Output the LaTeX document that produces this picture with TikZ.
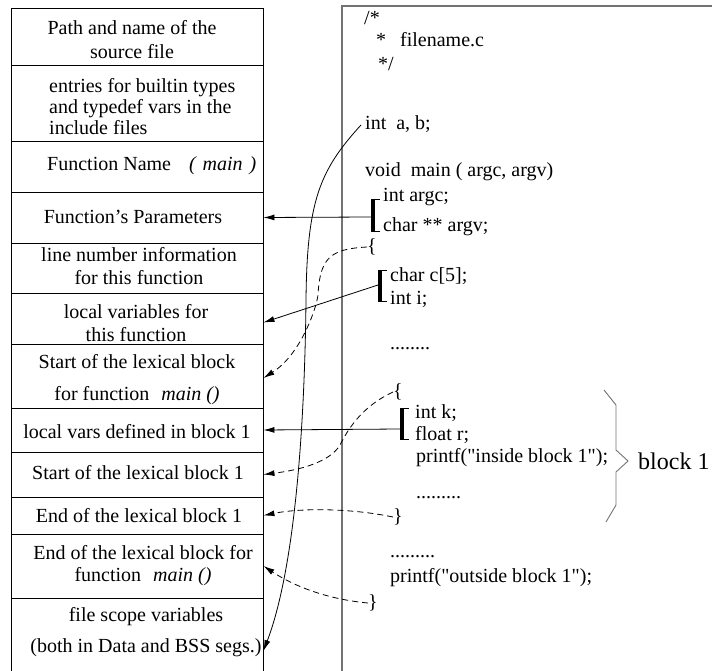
\documentclass[tikz,border=0pt]{standalone}
\usepackage{fontspec}
\setmainfont{Liberation Serif}[Ligatures=TeXOff]
\usetikzlibrary{arrows.meta}

\begin{document}
\begin{tikzpicture}[x=1pt,y=-1pt,
  every node/.style={font=\fontsize{20}{24}\selectfont, inner sep=0pt},
  cell/.style={draw, line width=0.9pt, minimum width=252pt},
  entry/.style={align=center},
  code/.style={anchor=west, text height=14pt, text depth=4pt},
  frame/.style={line width=1.1pt, draw=black!55},
  link/.style={line width=0.8pt, -{Latex[length=11pt,width=6pt]}},
  dlink/.style={link, dash pattern=on 6pt off 4pt},
  brbar/.style={line width=3.2pt},
  brtick/.style={line width=1.4pt},
]
\useasboundingbox (0,0) rectangle (712,671);

% ---- symbol table (left column) ----
\node[cell, minimum height=57pt] (r1)  at (137,36.5)  {};
\node[cell, minimum height=76pt] (r2)  at (137,103)   {};
\node[cell, minimum height=51pt] (r3)  at (137,166.5) {};
\node[cell, minimum height=51pt] (r4)  at (137,217.5) {};
\node[cell, minimum height=50pt] (r5)  at (137,268)   {};
\node[cell, minimum height=51pt] (r6)  at (137,318.5) {};
\node[cell, minimum height=64pt] (r7)  at (137,376)   {};
\node[cell, minimum height=44pt] (r8)  at (137,430)   {};
\node[cell, minimum height=45pt] (r9)  at (137,474.5) {};
\node[cell, minimum height=37pt] (r10) at (137,515.5) {};
\node[cell, minimum height=64pt] (r11) at (137,566)   {};
\node[cell, minimum height=92pt] (r12) at (137,644)   {};

\node[entry] (t1) at (132,40) {Path and name of the\\source file};
\node[align=left, anchor=west, font=\fontsize{20}{21}\selectfont] (t2) at (49,107)
  {entries for builtin types\\and typedef vars in the\\include files};
\node[anchor=west] (t3) at (47,166) {Function Name\hspace{18pt}\textit{(\hspace{7pt}main\hspace{7pt})}};
\node[entry] (t4) at (133,217) {Function’s Parameters};
\node[entry, font=\fontsize{20}{23}\selectfont] (t5) at (139,266.5) {line number information\\for this function};
\node[entry, font=\fontsize{20}{23}\selectfont] (t6) at (136,323.5) {local variables for\\this function};
\node[entry] (t7) at (137,380) {Start of the lexical block\\[8pt]for function\hspace{12pt}\textit{main ()}};
\node[entry] (t8) at (137,432) {local vars defined in block 1};
\node[entry] (t9) at (138,473) {Start of the lexical block 1};
\node[entry] (t10) at (139,516) {End of the lexical block 1};
\node[entry, font=\fontsize{20}{22}\selectfont] (t11) at (143,566) {End of the lexical block for\\function\hspace{12pt}\textit{main ()}};
\node[entry] (t12) at (146,632) {file scope variables\\[7pt](both in Data and BSS segs.)};

% ---- source listing (right panel) ----
\draw[frame] (342,700) -- (342,6) -- (720,6);

\node[code] (c0)  at (364,20)  {/*};
\node[code] (c1)  at (376,42)  {*\hspace{14pt}filename.c};
\node[code] (c2)  at (378,66)  {*/};
\node[code] (c3)  at (365,125) {int\hspace{10pt}a, b;};
\node[code] (c4)  at (365,172) {void\hspace{10pt}main ( argc, argv)};
\node[code] (c5)  at (383,197) {int argc;};
\node[code] (c6)  at (383,227) {char ** argv;};
\node[code] (c7)  at (367,247) {\{};
\node[code] (c8)  at (390,276) {char c[5];};
\node[code] (c9)  at (390,299) {int i;};
\node[code] (c10) at (390,344) {........};
\node[code] (c11) at (393,392) {\{};
\node[code] (c12) at (415,413) {int k;};
\node[code] (c13) at (415,435) {float r;};
\node[code] (c14) at (416,457) {printf("inside block 1");};
\node[code] (c15) at (416,493) {.........};
\node[code] (c16) at (393,517) {\}};
\node[code] (c17) at (390,552) {.........};
\node[code] (c18) at (390,577) {printf("outside block 1");};
\node[code] (c19) at (368,603) {\}};

% declaration brackets
\draw[brbar]  (373,199) -- (373,232);
\draw[brtick] (373,199.7) -- (380,199.7) (373,231.3) -- (380,231.3);
\coordinate (p1) at (371,217);
\draw[brbar]  (380,270) -- (380,302);
\draw[brtick] (380,270.7) -- (387,270.7) (380,301.3) -- (387,301.3);
\coordinate (p2) at (378,285);
\draw[brbar]  (402,408) -- (402,440);
\draw[brtick] (402,408.7) -- (409,408.7) (402,439.3) -- (409,439.3);
\coordinate (p3) at (400,429);

% block brace and label
\draw[frame, line width=0.9pt] (604,390) -- (616,405) -- (616,450) -- (628,461)
  -- (616,472) -- (616,505) -- (606,522);
\node[anchor=west, font=\fontsize{24}{28}\selectfont] (blk) at (638,461) {block 1};

% ---- references from the listing into the table ----
\draw[link] (p1) -- (r4.east);
\draw[link] (p2) -- ([yshift=-4pt]r6.east);
\draw[link] (p3) -- (r8.east);
\draw[link] ([xshift=-4pt]c3.west) .. controls (320,170) and (307,200) .. (306,300)
  .. controls (305,400) and (298,560) .. ([yshift=-7pt]r12.east);

\draw[dlink] (c7.west) .. controls (330,249) and (320,258) .. (318,295)
  .. controls (316,310) and (300,355) .. ([yshift=-2pt]r7.east);
\draw[dlink] (c11.west) .. controls (365,405) and (350,425) .. (340,445)
  .. controls (330,462) and (300,470) .. (r9.east);
\draw[dlink] (c16.west) .. controls (350,508) and (300,508) .. (r10.east);
\draw[dlink] (c19.west) .. controls (335,600) and (300,590) .. (r11.east);
\end{tikzpicture}
\end{document}
